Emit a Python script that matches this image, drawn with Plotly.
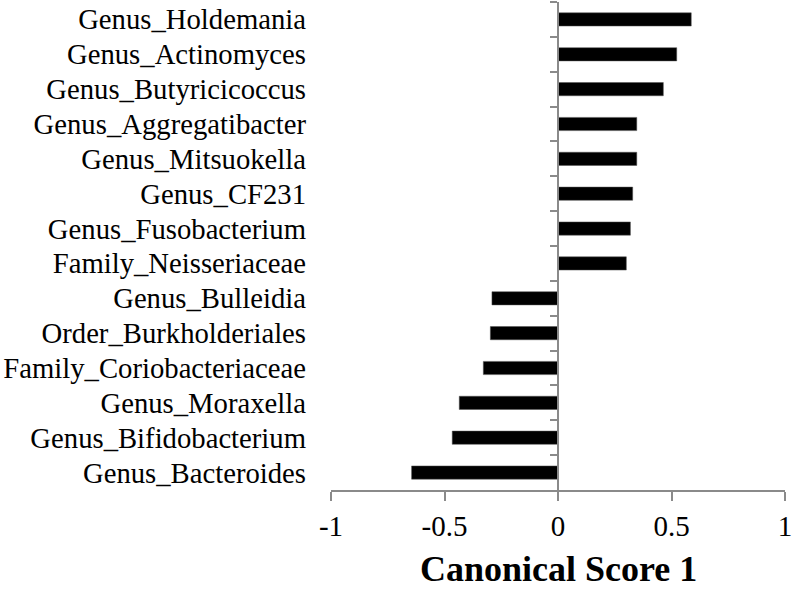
import plotly.graph_objects as go

categories = [
    "Genus_Holdemania", "Genus_Actinomyces", "Genus_Butyricicoccus",
    "Genus_Aggregatibacter", "Genus_Mitsuokella", "Genus_CF231",
    "Genus_Fusobacterium", "Family_Neisseriaceae", "Genus_Bulleidia",
    "Order_Burkholderiales", "Family_Coriobacteriaceae", "Genus_Moraxella",
    "Genus_Bifidobacterium", "Genus_Bacteroides",
]
scores = [0.587, 0.523, 0.464, 0.347, 0.347, 0.329, 0.319, 0.301,
          -0.291, -0.298, -0.329, -0.435, -0.466, -0.645]
x_ticks = [-1, -0.5, 0, 0.5, 1]
x_tick_labels = ["-1", "-0.5", "0", "0.5", "1"]
x_title = "Canonical Score 1"

FONT = "Liberation Serif, Times New Roman, serif"
GRAY = "#8a8a8a"

fig = go.Figure()
fig.add_trace(go.Bar(
    x=scores, y=categories, orientation="h",
    marker=dict(color="black", line=dict(color="#555", width=0.5)),
    showlegend=False, hoverinfo="x+y",
))
# invisible trace to anchor the zero-position category axis
fig.add_trace(go.Scatter(
    x=[0] * len(categories), y=categories, yaxis="y2",
    mode="markers", marker=dict(opacity=0, size=1), showlegend=False,
    hoverinfo="skip",
))

n = len(categories)
fig.update_layout(
    width=793, height=590,
    margin=dict(l=331, r=8, t=2, b=100),
    paper_bgcolor="white", plot_bgcolor="white",
    bargap=0.62,
    font=dict(family=FONT, size=28, color="black"),
    xaxis=dict(
        range=[-1, 1], tickmode="array", tickvals=x_ticks, ticktext=x_tick_labels,
        showgrid=False, zeroline=False, automargin=False,
        showline=True, linecolor=GRAY, linewidth=2,
        ticks="outside", ticklen=9, tickwidth=2, tickcolor=GRAY,
        tickfont=dict(family=FONT, size=29, color="black"),
    ),
    yaxis=dict(
        type="category", categoryorder="array", categoryarray=categories,
        tickmode="array", tickvals=categories, ticktext=categories,
        range=[n - 0.5, -0.5], autorange=False,
        showgrid=False, zeroline=False, showline=False,
        automargin=False, ticks="", ticklabelstandoff=24,
        tickfont=dict(family=FONT, size=28.7, color="black"),
    ),
    yaxis2=dict(
        type="category", categoryorder="array", categoryarray=categories,
        overlaying="y", matches="y", anchor="free", position=0.5, side="left",
        showgrid=False, zeroline=False, showticklabels=False, automargin=False,
        showline=True, linecolor=GRAY, linewidth=2,
        ticks="outside", ticklen=7, tickwidth=2, tickcolor=GRAY,
        tickson="boundaries", dtick=1,
    ),
    annotations=[dict(
        text="<b>" + x_title + "</b>", xref="paper", yref="paper",
        x=0.5, y=0, xanchor="center", yanchor="middle", yshift=-79,
        showarrow=False, borderpad=0,
        font=dict(family=FONT, size=36, color="black"),
    )],
)

fig.write_html(
    "out.html",
    config={"displayModeBar": False},
    post_script="document.body.style.margin='0';document.body.style.overflow='hidden';",
)
